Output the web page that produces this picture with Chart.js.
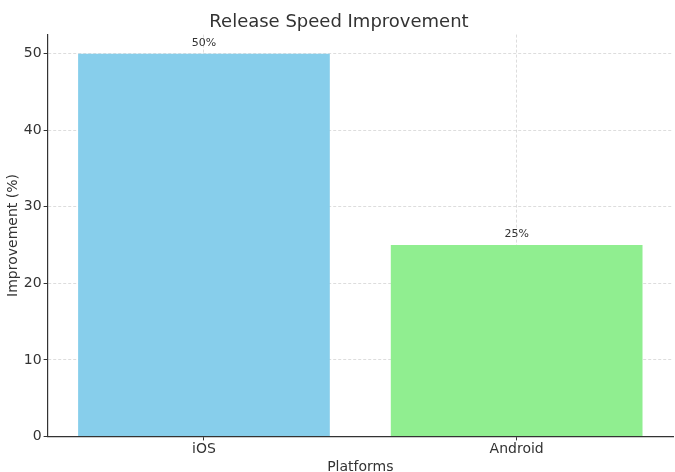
<!DOCTYPE html>
<html>
<head>
<meta charset="utf-8">
<script src="https://cdn.jsdelivr.net/npm/chart.js@4.4.1/dist/chart.umd.min.js"></script>
<style>
  html, body { margin: 0; padding: 0; background: #fff; }
  #wrap { width: 675px; height: 472px; }
</style>
</head>
<body>
<div id="wrap"><canvas id="speedChart"></canvas></div>
<script>
// Chart data
const platforms = ['iOS', 'Android'];
const improvement = [50, 25];
const barColors = ['#87CEEB', '#90EE90'];
const yTicks = [0, 10, 20, 30, 40, 50];

const textColor = '#333333';
const fontFamily = '"DejaVu Sans", sans-serif';

// Writes the value above each bar
const barLabels = {
    id: 'barLabels',
    afterDatasetsDraw(chart) {
        const ctx = chart.ctx;
        const meta = chart.getDatasetMeta(0);
        ctx.save();
        ctx.font = '11px ' + fontFamily;
        ctx.fillStyle = textColor;
        ctx.textAlign = 'center';
        ctx.textBaseline = 'bottom';
        meta.data.forEach((bar, i) => {
            ctx.fillText(improvement[i] + '%', bar.x, bar.y - 5);
        });
        ctx.restore();
    }
};

function initSpeedChart() {
    const ctx = document.getElementById('speedChart');
    if (!ctx) return;

    new Chart(ctx, {
        type: 'bar',
        data: {
            labels: platforms,
            datasets: [{
                label: 'Improvement (%)',
                data: improvement,
                backgroundColor: barColors,
                borderWidth: 0,
                barPercentage: 0.805,
                categoryPercentage: 1.0
            }]
        },
        options: {
            responsive: true,
            maintainAspectRatio: false,
            animation: false,
            layout: {
                padding: { left: 5, right: 2, top: 0, bottom: -4 }
            },
            plugins: {
                legend: { display: false },
                tooltip: { enabled: false },
                title: {
                    display: true,
                    text: 'Release Speed Improvement',
                    color: textColor,
                    font: { family: fontFamily, size: 18, weight: 'normal' },
                    padding: { top: 12, bottom: 1 }
                }
            },
            scales: {
                x: {
                    z: 1,
                    grid: {
                        offset: false,
                        color: 'rgba(170,170,170,0.4)',
                        tickColor: '#333',
                        tickLength: 4,
                        tickWidth: 1
                    },
                    border: { color: '#333', width: 1.2, dash: [3, 2] },
                    ticks: {
                        color: textColor,
                        padding: 1,
                        font: { family: fontFamily, size: 14 }
                    },
                    title: {
                        display: true,
                        text: 'Platforms',
                        color: textColor,
                        padding: { top: 0, bottom: 0 },
                        font: { family: fontFamily, size: 14 }
                    }
                },
                y: {
                    z: 1,
                    min: 0,
                    max: 52.5,
                    afterBuildTicks(axis) {
                        axis.ticks = yTicks.map(v => ({ value: v }));
                    },
                    grid: {
                        color: 'rgba(170,170,170,0.4)',
                        tickColor: '#333',
                        tickLength: 4,
                        tickWidth: 1
                    },
                    border: { color: '#333', width: 1.2, dash: [3, 2] },
                    ticks: {
                        color: textColor,
                        padding: 2,
                        font: { family: fontFamily, size: 14 }
                    },
                    title: {
                        display: true,
                        text: 'Improvement (%)',
                        color: textColor,
                        padding: { top: 0, bottom: 0 },
                        font: { family: fontFamily, size: 14 }
                    }
                }
            }
        },
        plugins: [barLabels]
    });
}

document.addEventListener('DOMContentLoaded', initSpeedChart);
</script>
</body>
</html>
